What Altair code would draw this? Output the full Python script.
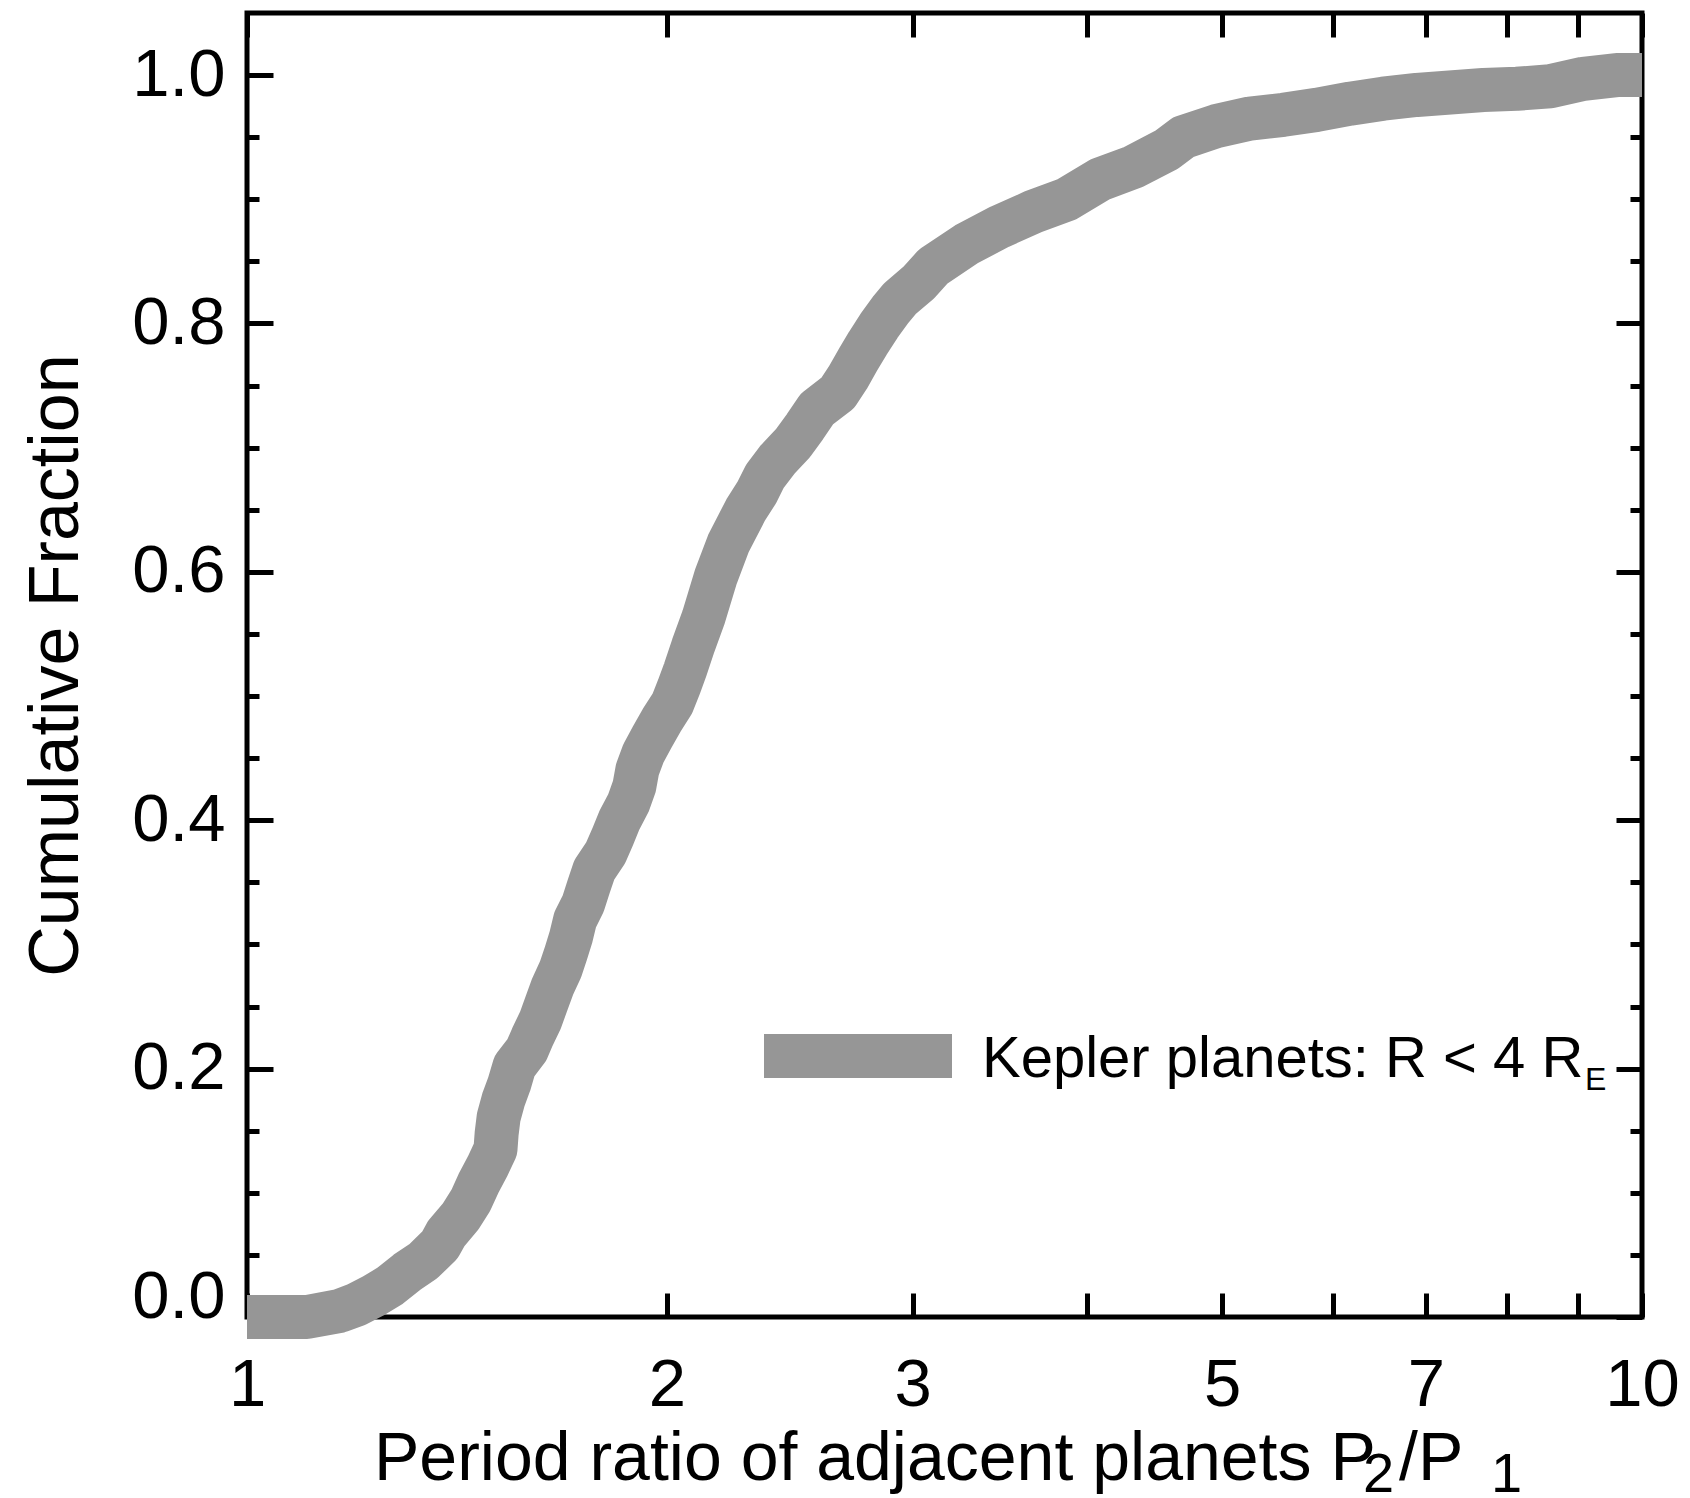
import altair as alt
import pandas as pd

# ---- data (cumulative distribution) ----
ratio = [1.000, 1.104, 1.166, 1.198, 1.232, 1.266, 1.302, 1.338, 1.375, 1.389,
         1.423, 1.447, 1.466, 1.487, 1.507, 1.510, 1.515, 1.527, 1.542, 1.555,
         1.587, 1.601, 1.623, 1.640, 1.656, 1.678, 1.693, 1.707, 1.719, 1.742,
         1.758, 1.774, 1.808, 1.829, 1.849, 1.877, 1.895, 1.905, 1.924, 1.952,
         1.984, 2.018, 2.041, 2.061, 2.088, 2.124, 2.168, 2.214, 2.278, 2.320,
         2.351, 2.399, 2.464, 2.512, 2.561, 2.651, 2.698, 2.742, 2.786, 2.838,
         2.893, 2.938, 3.031, 3.105, 3.281, 3.466, 3.662, 3.869, 4.088, 4.319,
         4.564, 4.691, 4.956, 5.236, 5.533, 5.845, 6.176, 6.523, 6.894, 7.284,
         7.695, 8.134, 8.593, 9.078, 9.590, 10.0]
cumfrac = [0.000, 0.000, 0.005, 0.010, 0.017, 0.025, 0.036, 0.045, 0.058, 0.067,
           0.081, 0.094, 0.108, 0.121, 0.135, 0.148, 0.161, 0.175, 0.188, 0.202,
           0.215, 0.225, 0.239, 0.253, 0.266, 0.280, 0.293, 0.306, 0.320, 0.333,
           0.347, 0.360, 0.374, 0.387, 0.400, 0.414, 0.427, 0.441, 0.454, 0.467,
           0.481, 0.494, 0.508, 0.521, 0.540, 0.563, 0.596, 0.623, 0.650, 0.664,
           0.677, 0.690, 0.704, 0.717, 0.731, 0.744, 0.757, 0.771, 0.784, 0.798,
           0.811, 0.820, 0.833, 0.846, 0.864, 0.878, 0.890, 0.900, 0.916, 0.926,
           0.940, 0.950, 0.959, 0.965, 0.968, 0.972, 0.977, 0.981, 0.984, 0.986,
           0.988, 0.989, 0.991, 0.997, 1.000, 1.000]

x_label_values = [1, 2, 3, 5, 7, 10]
x_tick_values = [1, 2, 3, 4, 5, 6, 7, 8, 9, 10]
y_label_values = [0.0, 0.2, 0.4, 0.6, 0.8, 1.0]
y_tick_values = [0.0, 0.05, 0.1, 0.15, 0.2, 0.25, 0.3, 0.35, 0.4, 0.45, 0.5,
                 0.55, 0.6, 0.65, 0.7, 0.75, 0.8, 0.85, 0.9, 0.95, 1.0]

x_title_parts = ["Period ratio of adjacent planets P", "2", "/P", "1"]
y_title = "Cumulative Fraction"
legend_parts = ["Kepler planets: R < 4 R", "E"]

df = pd.DataFrame({"ratio": ratio, "frac": cumfrac})

W, H = 1395, 1304
FONT = "Liberation Sans"
GRAY = "#969696"

xscale = alt.Scale(type="log", domain=[1, 10], nice=False)
yscale = alt.Scale(domain=[0, 1.05], nice=False, zero=False)

major_test = "abs(datum.value*5 - round(datum.value*5)) < 0.001"
ysize = {"condition": {"test": major_test, "value": 26}, "value": 12}

curve = alt.Chart(df).mark_line(
    color=GRAY, strokeWidth=44, strokeCap="butt", strokeJoin="round", clip=False
).encode(
    x=alt.X("ratio:Q", scale=xscale, axis=alt.Axis(
        orient="bottom", values=x_label_values, format="~g", ticks=False, tickSize=0,
        domain=False, grid=False, labelFont=FONT, labelFontSize=67, labelColor="black",
        labelPadding=35, labelFlush=False, labelOverlap=False, title=None)),
    y=alt.Y("frac:Q", scale=yscale, axis=alt.Axis(
        orient="left", values=y_label_values, format=".1f", ticks=False, tickSize=0,
        domain=False, grid=False, labelFont=FONT, labelFontSize=67, labelColor="black",
        labelPadding=22, labelOverlap=False, labelFlush=False,
        labelBaseline={"condition": {"test": "datum.value == 0", "value": "alphabetic"},
                       "value": "middle"},
        title=y_title, titleFont=FONT, titleFontSize=70, titleFontWeight="normal",
        titleColor="black", titleAngle=270, titleX=-170, titleY=H / 2,
        titleAlign="center", titleBaseline="alphabetic")),
)

# inward ticks: bottom + left edges
ticks_a = alt.Chart(df).mark_point(opacity=0).encode(
    x=alt.X("ratio:Q", scale=xscale, axis=alt.Axis(
        orient="top", offset=-H, values=x_tick_values, labels=False, domain=False,
        grid=False, ticks=True, tickSize=24, tickWidth=5, tickColor="black", title=None)),
    y=alt.Y("frac:Q", scale=yscale, axis=alt.Axis(
        orient="right", offset=-W, values=y_tick_values, labels=False, domain=False,
        grid=False, ticks=True, tickSize=ysize, tickWidth=5, tickColor="black", title=None)),
)

# inward ticks: top + right edges
ticks_b = alt.Chart(df).mark_point(opacity=0).encode(
    x=alt.X("ratio:Q", scale=xscale, axis=alt.Axis(
        orient="bottom", offset=-H, values=x_tick_values, labels=False, domain=False,
        grid=False, ticks=True, tickSize=24, tickWidth=5, tickColor="black", title=None)),
    y=alt.Y("frac:Q", scale=yscale, axis=alt.Axis(
        orient="left", offset=-W, values=y_tick_values, labels=False, domain=False,
        grid=False, ticks=True, tickSize=ysize, tickWidth=5, tickColor="black", title=None)),
)

one = pd.DataFrame({"k": [0]})

legend_line = alt.Chart(one).mark_rule(color=GRAY, strokeWidth=44, strokeCap="butt").encode(
    x=alt.value(517), x2=alt.value(705), y=alt.value(1043)
)


def txt(s, x, y, size):
    return alt.Chart(pd.DataFrame({"t": [s]})).mark_text(
        font=FONT, fontSize=size, color="black", align="left", baseline="alphabetic"
    ).encode(text="t:N", x=alt.value(x), y=alt.value(y))


legend_text = txt(legend_parts[0], 735, 1064, 58)
legend_sub = txt(legend_parts[1], 1338, 1077, 32)

xt_main = txt(x_title_parts[0], 127, 1467, 68)
xt_s2 = txt(x_title_parts[1], 1116, 1479, 56)
xt_mid = txt(x_title_parts[2], 1152, 1467, 68)
xt_s1 = txt(x_title_parts[3], 1244, 1479, 56)

chart = alt.layer(
    curve, ticks_a, ticks_b, legend_line, legend_text, legend_sub,
    xt_main, xt_s2, xt_mid, xt_s1
).resolve_axis(
    x="independent", y="independent"
).properties(
    width=W, height=H,
    autosize=alt.AutoSizeParams(type="none"),
    padding={"left": 239, "top": 5, "right": 40, "bottom": 181},
    background="white",
).configure_view(
    stroke="black", strokeWidth=5
).configure_axis(grid=False)

chart.save("out.html", embed_options={"renderer": "svg", "actions": False})
